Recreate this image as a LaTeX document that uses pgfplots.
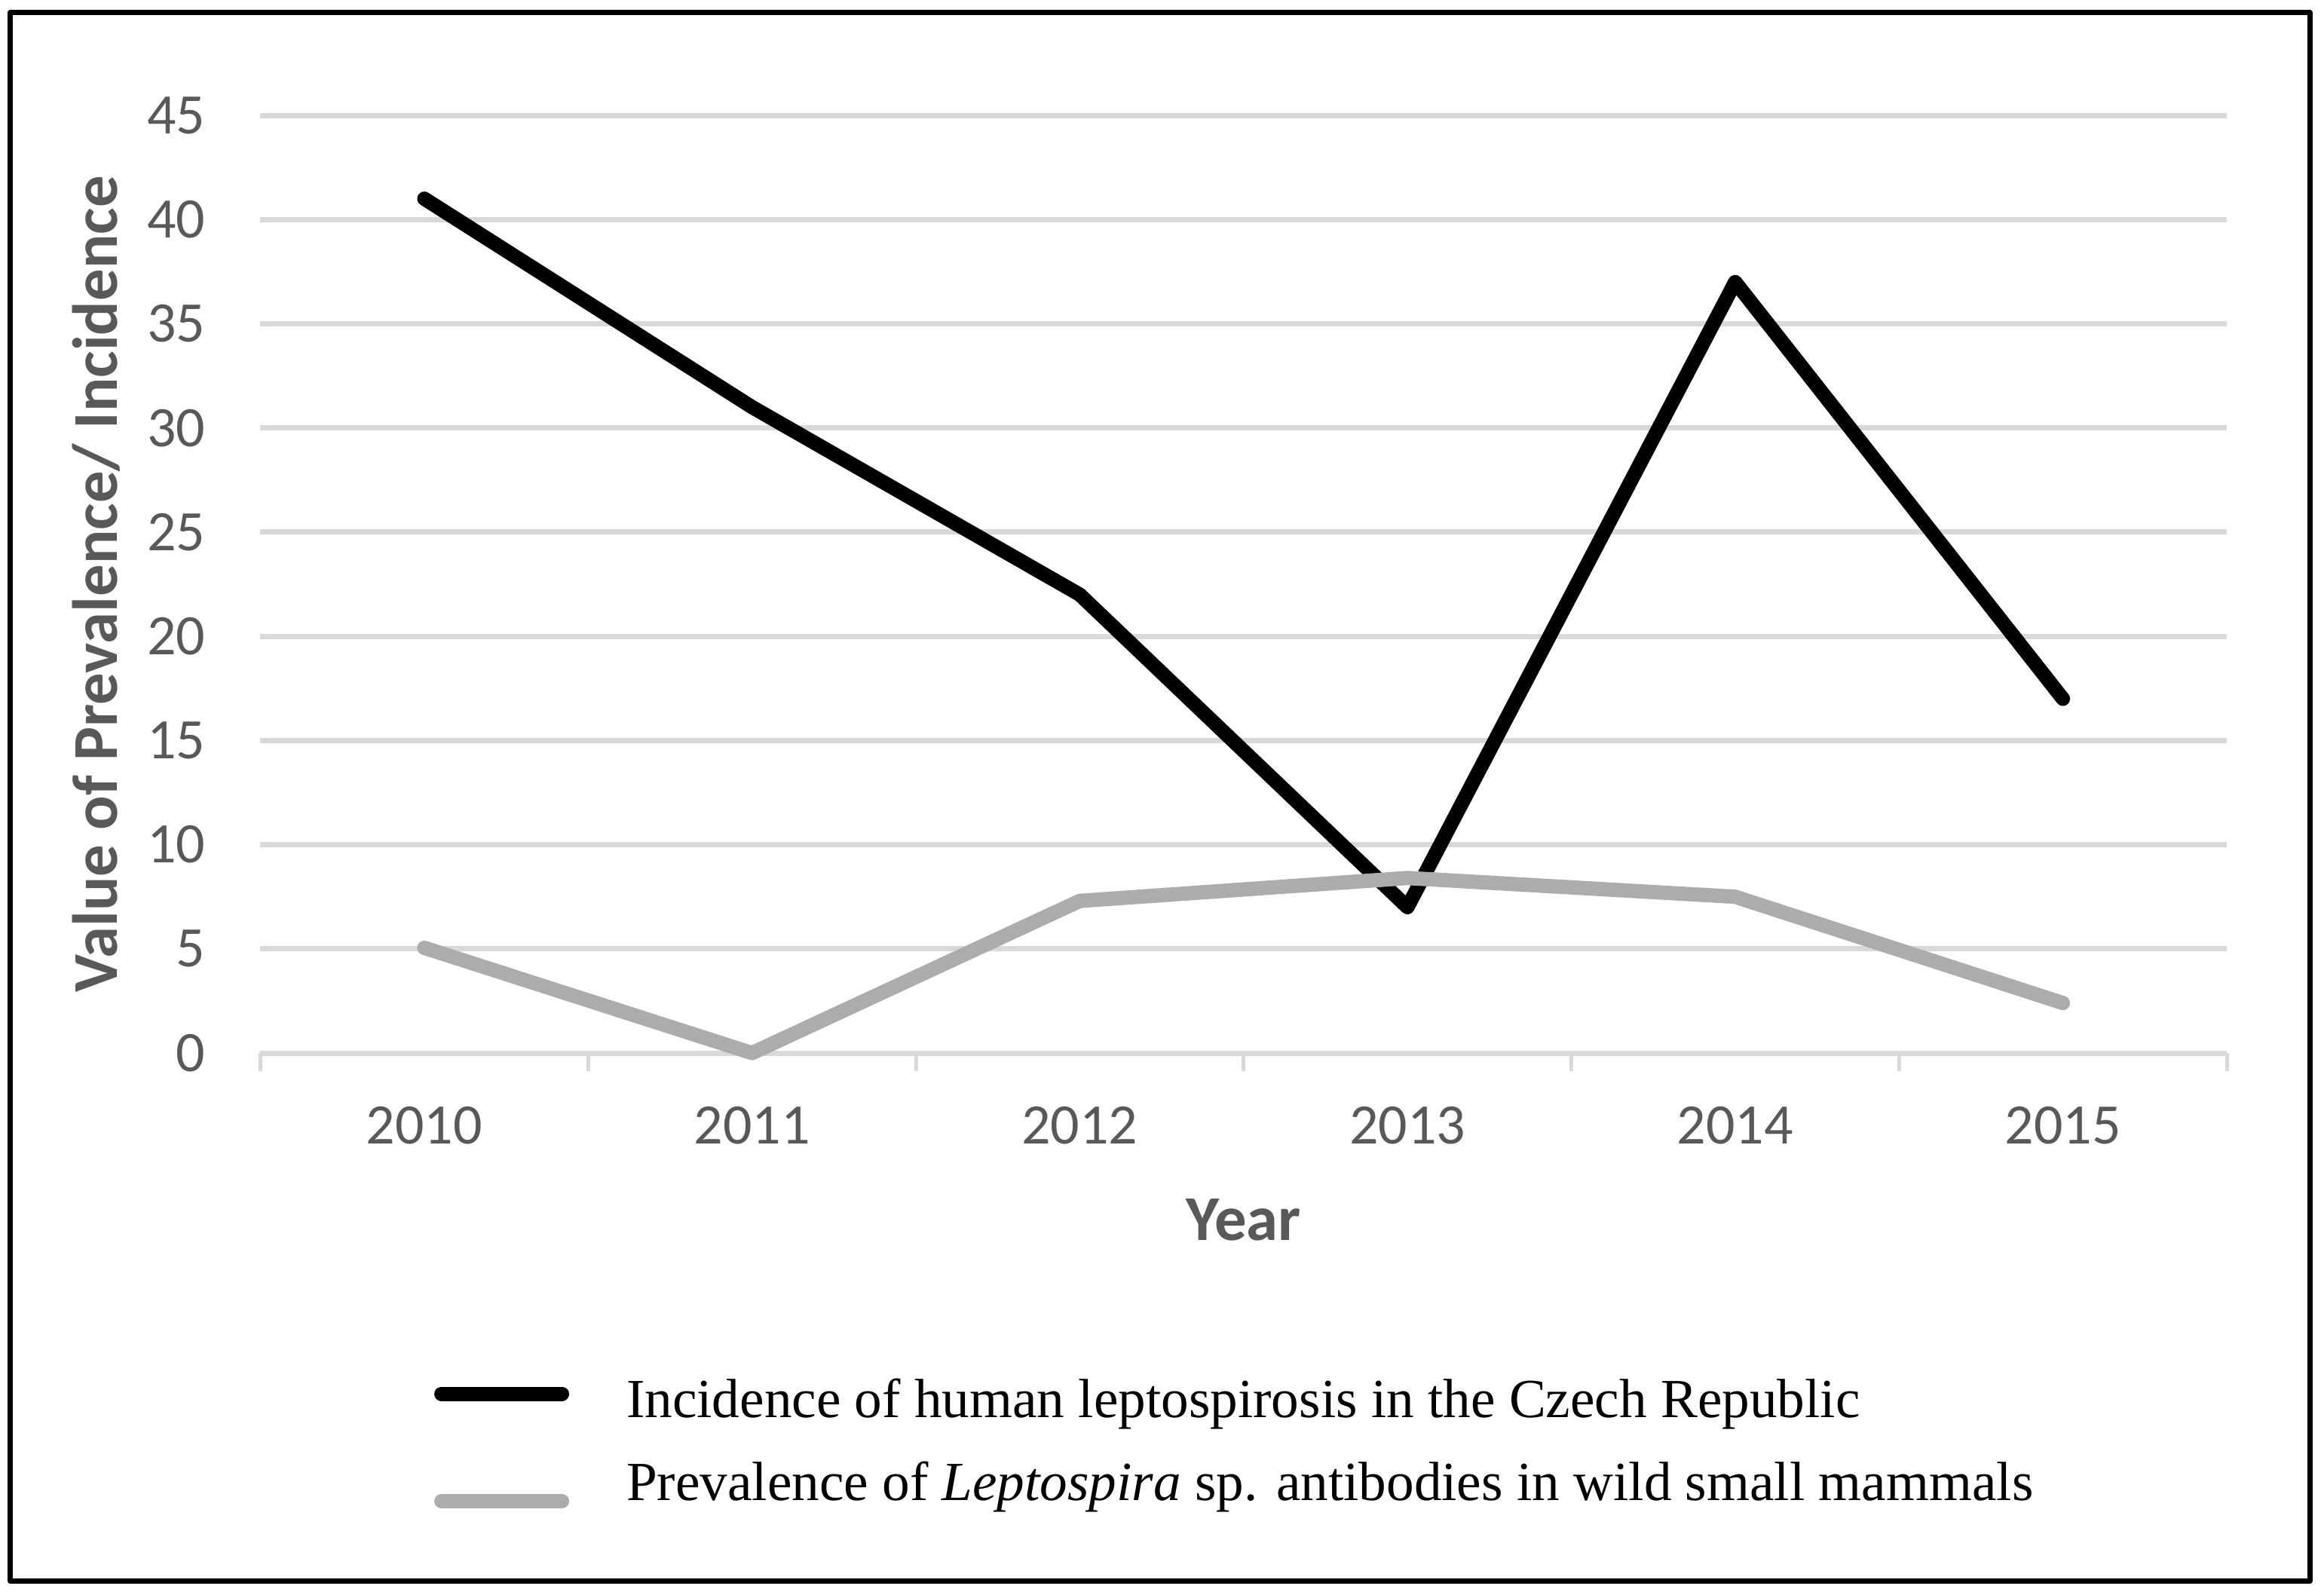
\documentclass[border=0pt]{standalone}
\usepackage{fontspec}
\setmainfont{Liberation Serif}
\setsansfont{Carlito}
\usepackage{pgfplots}
\pgfplotsset{compat=1.18}

\definecolor{gridgray}{HTML}{D9D9D9}
\definecolor{txtgray}{HTML}{595959}
\definecolor{linegray}{HTML}{AEABAB}

% legend samples: row 1 line above text middle, row 2 line on the baseline
\pgfplotsset{
  legimgA/.style={legend image code/.code={\path[draw=none,fill=none] (0pt,-4pt) rectangle (40pt,12pt); \draw[##1] (0pt,7.75pt) -- (40pt,7.75pt);}},
  legimgB/.style={legend image code/.code={\path[draw=none,fill=none] (0pt,-4pt) rectangle (40pt,12pt); \draw[##1] (0pt,-0.25pt) -- (40pt,-0.25pt);}},
}

\begin{document}
\begin{tikzpicture}
\useasboundingbox (0,0) rectangle (770.75pt,527.75pt);
\draw[line width=1.75pt, line join=round] (3.43pt,3.4pt) rectangle (766.1pt,523.6pt);

\begin{axis}[
    at={(86.375pt,178.5pt)}, anchor=south west,
    scale only axis, width=652.125pt, height=311pt,
    xmin=-0.5, xmax=5.5, ymin=0, ymax=45,
    clip=false,
    axis line style={draw=none},
    xtick={0,1,2,3,4,5},
    xticklabels={2010,2011,2012,2013,2014,2015},
    minor xtick={-0.5,0.5,1.5,2.5,3.5,4.5,5.5},
    ytick={0,5,...,45},
    xtick pos=bottom, ytick pos=left,
    tick align=outside,
    major tick length=0pt, minor tick length=6pt,
    minor tick style={draw=gridgray, line width=1.25pt},
    ymajorgrids,
    major grid style={draw=gridgray, line width=1.75pt},
    /pgf/number format/assume math mode=true,
    ticklabel style={font=\sffamily\fontsize{19}{20}\selectfont, text=txtgray, inner sep=0pt},
    xticklabel style={anchor=base},
    xticklabel shift=30pt,
    yticklabel style={anchor=east},
    yticklabel shift=18.1pt,
    every axis y label/.style={at={([xshift=-54.4pt]axis description cs:0,0.5)}, rotate=90, anchor=center, inner sep=0pt},
    every axis x label/.style={at={([yshift=-62pt]axis description cs:0.5,0)}, anchor=base, inner sep=0pt},
    label style={font=\sffamily\bfseries\fontsize{21.2}{22}\selectfont, text=txtgray},
    xlabel={Year},
    ylabel={Value of Prevalence/ Incidence},
    legend cell align=left,
    legend style={at={(axis description cs:0.0884,-0.34968)}, anchor=north west,
        draw=none, fill=none, inner sep=0pt, outer sep=0pt,
        row sep=11.6pt,
        font=\fontsize{18.3}{18.3}\selectfont,
        nodes={inner sep=0pt, text height=12pt, text depth=4pt},
        cells={anchor=base west},
        /tikz/every odd column/.append style={column sep=19pt}},
]
\addplot[black, line width=4.75pt, line join=round, line cap=round, legimgA]
    coordinates {(0,41) (1,31) (2,22) (3,7) (4,37) (5,17)};
\addlegendentry{Incidence of human leptospirosis in the Czech Republic}

\addplot[linegray, line width=4.75pt, line join=round, line cap=round, legimgB]
    coordinates {(0,5.05) (1,0) (2,7.3) (3,8.4) (4,7.5) (5,2.4)};
\addlegendentry{Prevalence of \textit{Leptospira} sp. antibodies in wild small mammals}
\end{axis}
\end{tikzpicture}
\end{document}
